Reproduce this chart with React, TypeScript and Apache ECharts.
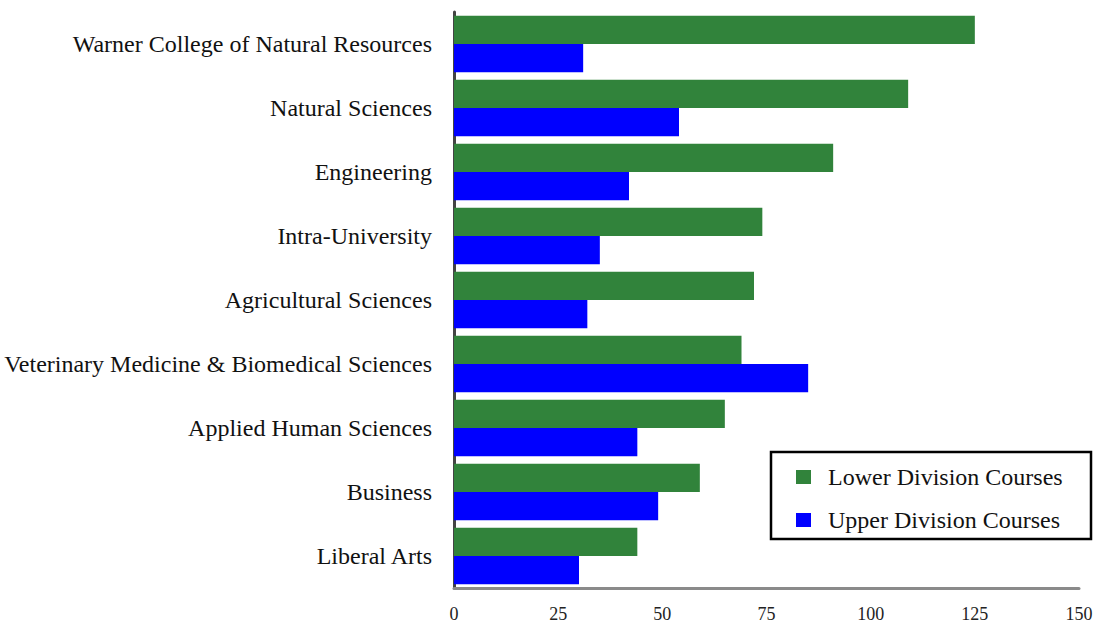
import React, { useEffect, useRef } from "react";
import * as echarts from "echarts";

const categories = [
  "Warner College of Natural Resources",
  "Natural Sciences",
  "Engineering",
  "Intra-University",
  "Agricultural Sciences",
  "Veterinary Medicine & Biomedical Sciences",
  "Applied Human Sciences",
  "Business",
  "Liberal Arts",
];
const lowerDivision = [125, 109, 91, 74, 72, 69, 65, 59, 44];
const upperDivision = [31, 54, 42, 35, 32, 85, 44, 49, 30];
const seriesNames = ["Lower Division Courses", "Upper Division Courses"];

const FONT = "'Liberation Serif', 'DejaVu Serif', serif";

export default function App() {
  const ref = useRef<HTMLDivElement>(null);
  useEffect(() => {
    if (!ref.current) return;
    const chart = echarts.init(ref.current, undefined, { renderer: "svg" });
    chart.setOption({
      animation: false,
      backgroundColor: "#ffffff",
      textStyle: { fontFamily: FONT },
      grid: { left: 454, right: 26, top: 12, bottom: 36, containLabel: false },
      xAxis: {
        type: "value",
        min: 0,
        max: 150,
        interval: 25,
        axisLine: { show: true, lineStyle: { color: "#8a8a8a", width: 3 } },
        axisTick: { show: false },
        splitLine: { show: false },
        axisLabel: { color: "#222", fontSize: 18, fontFamily: FONT, margin: 17 },
      },
      yAxis: {
        type: "category",
        inverse: true,
        data: categories,
        axisLine: { show: true, onZero: false, lineStyle: { color: "#444", width: 3 } },
        axisTick: { show: false },
        axisLabel: { color: "#111", fontSize: 24, fontFamily: FONT, margin: 22 },
      },
      legend: {
        orient: "vertical",
        left: 796,
        top: 465,
        padding: 0,
        z: 10,
        itemWidth: 15,
        itemHeight: 14,
        itemGap: 19,
        icon: "rect",
        textStyle: { fontSize: 24, fontFamily: FONT, color: "#111", padding: [0, 0, 0, 12] },
        data: seriesNames,
      },
      graphic: [
        {
          type: "rect",
          shape: { x: 771, y: 452, width: 320, height: 87 },
          style: { fill: "#fff", stroke: "#000", lineWidth: 2.5 },
          z: 1,
        },
      ],
      series: [
        {
          name: seriesNames[0],
          type: "bar",
          data: lowerDivision,
          itemStyle: { color: "#31833b" },
          barGap: "0%",
          barCategoryGap: "12%",
          z: 2,
        },
        {
          name: seriesNames[1],
          type: "bar",
          data: upperDivision,
          itemStyle: { color: "#0000ff" },
          barGap: "0%",
          barCategoryGap: "12%",
          z: 2,
        },
      ],
    });
    return () => chart.dispose();
  }, []);
  return <div ref={ref} style={{ width: 1105, height: 624, position: "absolute", left: 0, top: 0 }} />;
}
